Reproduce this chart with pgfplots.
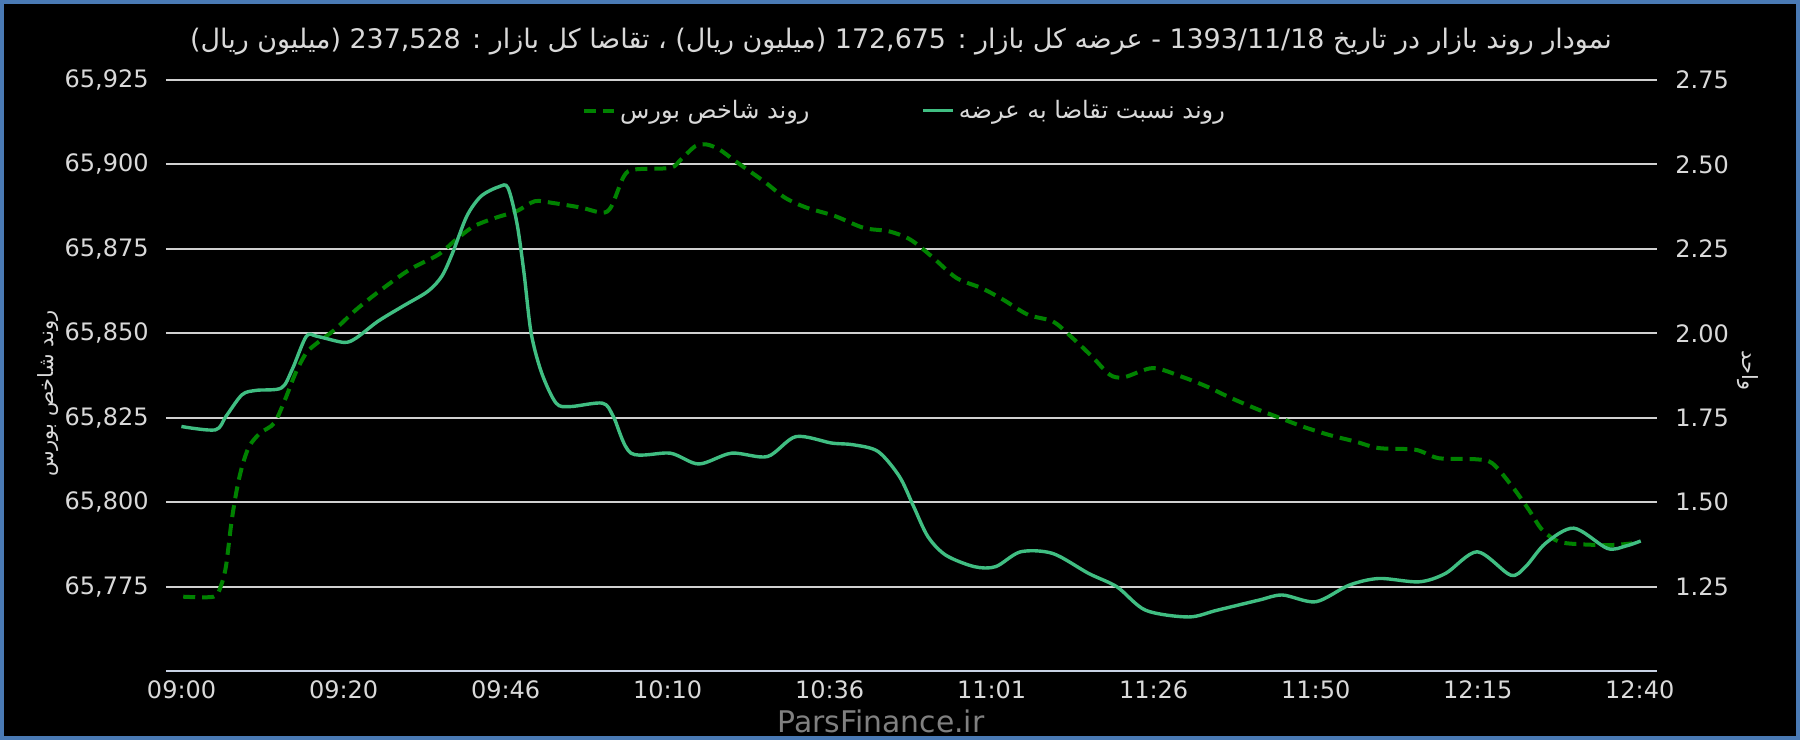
\documentclass[border=0pt]{standalone}
\usepackage{pgfplots}
\pgfplotsset{compat=1.18}
\usepackage{fontspec}
\setmainfont{DejaVu Sans}
\newfontfamily\fa[Script=Arabic]{DejaVu Sans}
\TeXXeTstate=1

\definecolor{frameblue}{RGB}{74,122,181}
\definecolor{ratio}{RGB}{64,190,130}
\definecolor{index}{RGB}{0,130,0}
\definecolor{gridc}{RGB}{208,208,208}
\definecolor{axisc}{RGB}{200,210,228}
\definecolor{lbl}{RGB}{217,217,217}

\pgfplotsset{
  base/.style={
    scale only axis, width=745.5pt, height=295.5pt,
    at={(0,0)}, anchor=south west,
    xmin=0, xmax=9,
    major tick length=0pt,
    tick label style={text=lbl, font=\fontsize{12}{14}\selectfont},
    /pgf/number format/assume math mode=true,
  },
  indexline/.style={index, line width=2pt, dash pattern=on 6pt off 3.5pt},
  ratioline/.style={ratio, line width=1.7pt},
}

\begin{document}
\begin{tikzpicture}
\fill[frameblue] (-83pt,-34.5pt) rectangle (817pt,335.5pt);
\fill[black] (-81pt,-32.5pt) rectangle (815pt,333.5pt);

% left axis: index
\begin{axis}[base,
  ymin=65750, ymax=65925,
  axis x line*=bottom, axis y line*=left,
  x axis line style={-, draw=axisc, line width=1pt},
  y axis line style={draw=none},
  ytick={65775,65800,65825,65850,65875,65900,65925},
  scaled y ticks=false,
  yticklabel style={anchor=east, inner sep=0pt, xshift=-8.5pt,
    /pgf/number format/.cd, fixed, precision=0, 1000 sep={,}},
  ymajorgrids, grid style={gridc, line width=1pt},
  xtick={0.094,1.072,2.05,3.028,4.006,4.984,5.962,6.94,7.918,8.896},
  xticklabels={09:00,09:20,09:46,10:10,10:36,11:01,11:26,11:50,12:15,12:40},
  xticklabel style={anchor=north, inner sep=0pt, yshift=-4.5pt},
  ylabel={\fa\beginR روند شاخص بورس\endR},
  ylabel style={at={(axis description cs:-0.079,0.47)}, anchor=center,
    text=lbl, font=\fontsize{10.5}{12}\selectfont},
]
\addplot[indexline, smooth, tension=0.5] coordinates {
(0.104,65772)(0.287,65772)(0.330,65775)(0.362,65781)(0.395,65794)
(0.427,65803.6)(0.459,65810.5)(0.502,65816.5)(0.567,65820.4)(0.653,65823.4)
(0.718,65830.3)(0.782,65838.2)(0.847,65844.2)(0.912,65847.1)(1.019,65851.1)
(1.148,65857)(1.299,65862.9)(1.472,65868.9)(1.644,65873.3)(1.752,65877.8)
(1.859,65881.7)(1.989,65884.2)(2.118,65886.2)(2.226,65889.1)(2.333,65888.6)
(2.506,65887.2)(2.635,65885.7)(2.689,65887.6)(2.764,65896.5)(2.829,65898.5)
(3.044,65899)(3.109,65901.5)(3.195,65905.4)(3.264,65905.9)(3.341,65904.4)
(3.436,65901)(3.609,65895)(3.738,65890.1)(3.867,65887.2)(4.039,65884.7)
(4.212,65881.2)(4.363,65880.2)(4.491,65877.8)(4.621,65872.8)(4.771,65866.4)
(4.922,65863.4)(5.052,65860)(5.203,65855.5)(5.353,65853.5)(5.461,65849.1)
(5.590,65843.1)(5.698,65837.7)(5.784,65837)(5.957,65839.7)(6.128,65837.2)
(6.279,65834.3)(6.430,65830.8)(6.598,65827.3)(6.699,65825.4)(6.860,65822.4)
(7.021,65819.9)(7.182,65817.9)(7.322,65816)(7.543,65815.5)(7.684,65813)
(7.905,65812.7)(8.006,65811.5)(8.127,65804.6)(8.227,65797.7)(8.307,65791.8)
(8.408,65788.3)(8.549,65787.5)(8.730,65787.3)(8.851,65787.8)
};
\end{axis}

% right axis: demand/supply ratio
\begin{axis}[base,
  ymin=1, ymax=2.75,
  axis x line=none, axis y line*=right,
  y axis line style={draw=none},
  ytick={1.25,1.5,1.75,2,2.25,2.5,2.75},
  yticklabel style={anchor=west, inner sep=0pt, xshift=9pt,
    /pgf/number format/.cd, fixed, fixed zerofill, precision=2},
  ylabel={\fa\beginR واحد\endR},
  ylabel style={at={(axis description cs:1.061,0.509)}, anchor=center,
    rotate=180, text=lbl, font=\fontsize{10.5}{12}\selectfont},
  legend style={at={(axis description cs:0.496,0.948)}, anchor=center,
    draw=none, fill=none, text=lbl, font=\fontsize{12}{14}\selectfont,
    /tikz/every even column/.append style={column sep=54pt}},
  legend columns=2,
  legend image code/.code={\draw[#1] (0pt,0pt) -- (15pt,0pt);},
]
\addlegendimage{indexline}
\addlegendentry{\fa\beginR روند شاخص بورس\endR}
\addplot[ratioline, smooth, tension=0.5] coordinates {
(0.093,1.724)(0.298,1.714)(0.362,1.754)(0.459,1.818)(0.545,1.831)
(0.696,1.838)(0.761,1.892)(0.847,1.991)(0.912,1.991)(1.073,1.973)
(1.148,1.986)(1.278,2.035)(1.429,2.080)(1.580,2.124)(1.665,2.169)
(1.730,2.238)(1.816,2.347)(1.902,2.406)(2.010,2.434)(2.064,2.431)
(2.118,2.327)(2.161,2.179)(2.204,2.001)(2.268,1.882)(2.355,1.793)
(2.441,1.783)(2.635,1.793)(2.700,1.754)(2.807,1.645)(3.044,1.645)
(3.216,1.613)(3.414,1.645)(3.630,1.635)(3.802,1.694)(4.018,1.675)
(4.147,1.670)(4.298,1.650)(4.427,1.576)(4.513,1.487)(4.599,1.398)
(4.707,1.343)(4.879,1.309)(5.008,1.309)(5.159,1.353)(5.353,1.348)
(5.569,1.289)(5.741,1.249)(5.913,1.180)(6.172,1.160)(6.345,1.180)
(6.598,1.210)(6.739,1.225)(6.940,1.205)(7.141,1.254)(7.322,1.274)
(7.563,1.264)(7.724,1.289)(7.915,1.353)(8.116,1.284)(8.207,1.309)
(8.327,1.378)(8.498,1.423)(8.700,1.363)(8.811,1.370)(8.902,1.385)
};
\addlegendentry{\fa\beginR روند نسبت تقاضا به عرضه\endR}
\end{axis}

\node[text=lbl, font=\fontsize{13.45}{15}\selectfont] at (367.5pt,314.5pt)
  {\fa\beginR نمودار روند بازار در تاریخ \beginL1393/11/18\endL{} - عرضه کل بازار : \beginL172,675\endL{} (میلیون ریال) ، تقاضا کل بازار : \beginL237,528\endL{} (میلیون ریال)\endR};
\node[text=gray, font=\fontsize{14.9}{17}\selectfont] at (357.5pt,-25pt) {ParsFinance.ir};
\end{tikzpicture}
\end{document}
